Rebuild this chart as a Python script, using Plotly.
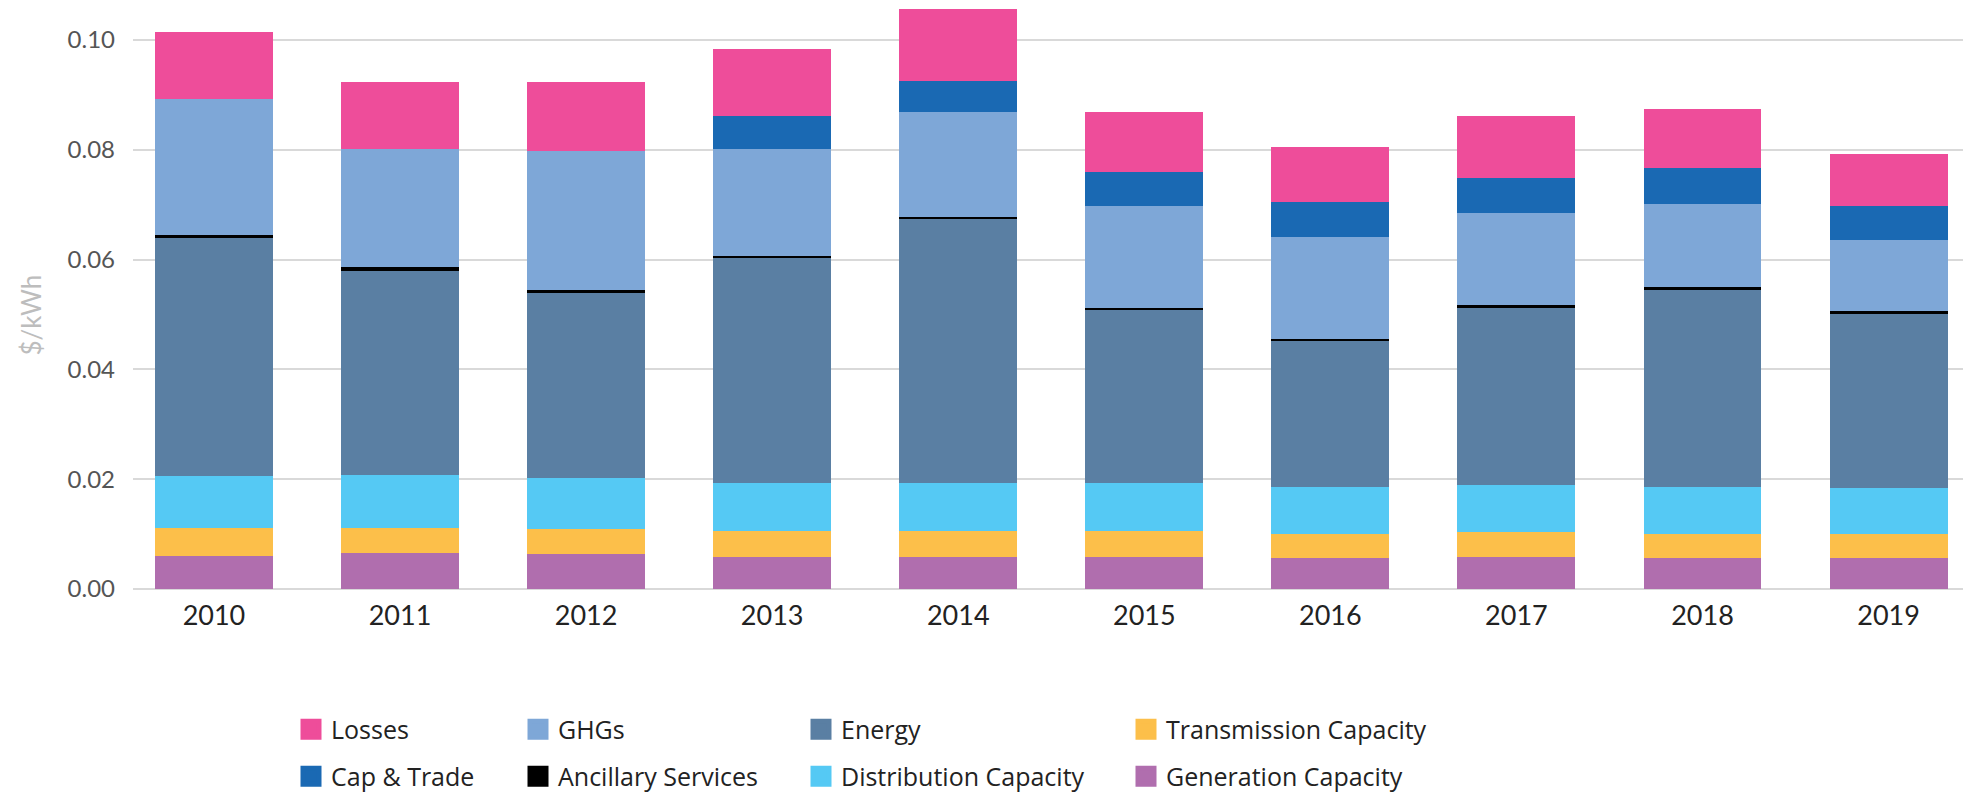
import plotly.graph_objects as go

years = ["2010", "2011", "2012", "2013", "2014", "2015", "2016", "2017", "2018", "2019"]

generation = [0.0061, 0.0065, 0.0063, 0.0059, 0.0059, 0.0059, 0.0056, 0.0058, 0.0056, 0.0056]
transmission = [0.0050, 0.0047, 0.0047, 0.0047, 0.0047, 0.0047, 0.0044, 0.0046, 0.0044, 0.0044]
distribution = [0.0094, 0.0095, 0.0093, 0.0087, 0.0087, 0.0087, 0.0086, 0.0086, 0.0086, 0.0084]
energy = [0.0435, 0.0372, 0.0337, 0.0411, 0.0482, 0.0317, 0.0266, 0.0322, 0.0359, 0.0317]
ancillary = [0.0005, 0.0007, 0.0005, 0.0003, 0.0003, 0.0002, 0.0003, 0.0005, 0.0005, 0.0005]
ghgs = [0.0248, 0.0215, 0.0253, 0.0194, 0.0191, 0.0186, 0.0187, 0.0168, 0.0152, 0.0129]
cap_trade = [0.0, 0.0, 0.0, 0.0060, 0.0057, 0.0062, 0.0063, 0.0064, 0.0065, 0.0062]
losses = [0.0122, 0.0122, 0.0125, 0.0122, 0.0130, 0.0109, 0.0100, 0.0112, 0.0108, 0.0096]

y_ticks = [0.0, 0.02, 0.04, 0.06, 0.08, 0.10]
y_ticktext = ["0.00", "0.02", "0.04", "0.06", "0.08", "0.10"]

# stack order bottom -> top
series = [
    ("Generation Capacity", generation, "#B06EAE"),
    ("Transmission Capacity", transmission, "#FCBF4A"),
    ("Distribution Capacity", distribution, "#55C9F4"),
    ("Energy", energy, "#5A7FA3"),
    ("Ancillary Services", ancillary, "#000000"),
    ("GHGs", ghgs, "#7EA7D7"),
    ("Cap & Trade", cap_trade, "#1A69B3"),
    ("Losses", losses, "#EE4D9A"),
]

# legend layout: name, swatch centre (px), row
legend_layout = [
    ("Losses", 313, 0),
    ("GHGs", 540, 0),
    ("Energy", 823, 0),
    ("Transmission Capacity", 1148, 0),
    ("Cap & Trade", 313, 1),
    ("Ancillary Services", 540, 1),
    ("Distribution Capacity", 823, 1),
    ("Generation Capacity", 1148, 1),
]
row_y_px = [729.5, 776.5]

W, H = 1963, 792
ML, MR, MT, MB = 133, 0, 0, 203
plot_w = W - ML - MR
plot_h = H - MT - MB
px_per_unit = 5490.0
y_top = plot_h / px_per_unit

fig = go.Figure()
colors = {}
for name, vals, col in series:
    colors[name] = col
    fig.add_trace(go.Bar(
        x=years, y=vals, name=name,
        marker=dict(color=col, line=dict(width=0)),
        showlegend=False,
    ))

layout_legends = {}
for i, (name, cx, row) in enumerate(legend_layout):
    lid = "legend" if i == 0 else f"legend{i+1}"
    col = colors[name]
    fig.add_trace(go.Scatter(
        x=[None], y=[None], mode="markers", name=name,
        marker=dict(symbol="square", size=16, color=col, line=dict(color=col, width=5)),
        legend=lid, showlegend=True, hoverinfo="skip",
    ))
    layout_legends[lid] = dict(
        x=(cx - 22 - ML) / plot_w,
        y=(H - MB - row_y_px[row]) / plot_h,
        xanchor="left", yanchor="middle",
        orientation="v",
        bgcolor="rgba(0,0,0,0)",
        borderwidth=0,
        itemsizing="trace",
        font=dict(family="Open Sans", size=25, color="#222222"),
    )

fig.update_layout(
    width=W, height=H,
    margin=dict(l=ML, r=MR, t=MT, b=MB, pad=0, autoexpand=False),
    barmode="stack",
    bargap=0.366,
    plot_bgcolor="white",
    paper_bgcolor="white",
    font=dict(family="Lato", color="#444444"),
    xaxis=dict(
        type="category",
        range=[-0.435, 9.40],
        showgrid=False, showline=False, zeroline=False,
        ticks="",
        ticklabelstandoff=8,
        tickfont=dict(family="Lato", size=27, color="#222222"),
    ),
    yaxis=dict(
        range=[0, y_top],
        tickvals=y_ticks, ticktext=y_ticktext,
        showgrid=True, gridcolor="#d9d9d9", gridwidth=2,
        zeroline=True, zerolinecolor="#d9d9d9", zerolinewidth=2,
        showline=False, ticks="",
        ticklabelstandoff=17,
        tickfont=dict(family="Lato", size=24, color="#555555"),
    ),
    annotations=[dict(
        text="$/kWh", xref="paper", yref="paper",
        x=(30 - ML) / plot_w, y=(H - MB - 315.5) / plot_h,
        xanchor="center", yanchor="middle", textangle=-90, showarrow=False,
        font=dict(family="Lato", size=26, color="#bdbdbd"),
    )],
    **layout_legends,
)

fig.write_html(
    "out.html",
    config={"displayModeBar": False},
    post_script="document.body.style.margin='0px';document.body.style.overflow='hidden';",
)
